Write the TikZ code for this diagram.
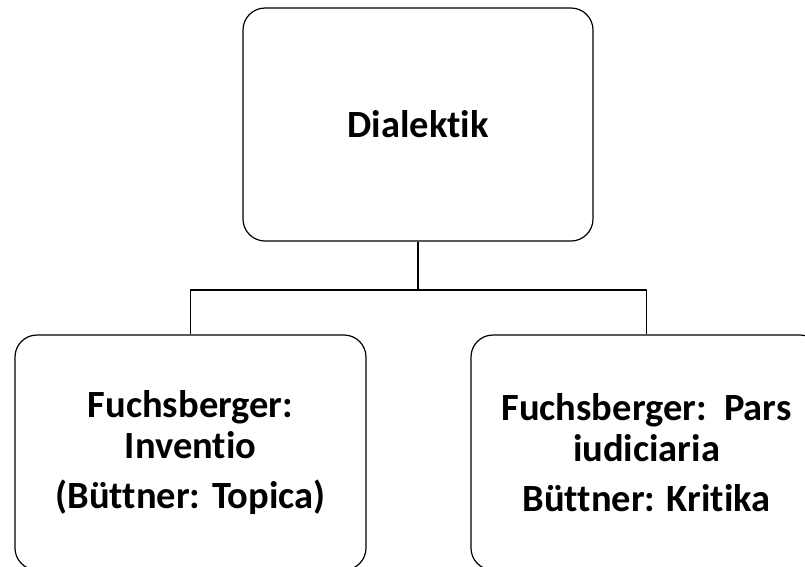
\documentclass[tikz,border=0pt]{standalone}
\usepackage{fontspec}
\setmainfont{Carlito}[Ligatures=NoCommon]

\begin{document}
\begin{tikzpicture}[x=1pt, y=-1pt,
	box/.style={draw, line width=1.2pt, rounded corners=22pt, align=center,
		font=\bfseries\fontsize{38.5}{41}\selectfont, inner sep=0pt},
	topbox/.style={box, minimum width=350pt, minimum height=233pt},
	leafbox/.style={box, minimum width=351pt, minimum height=235pt}]
	\useasboundingbox (0, 0) rectangle (805, 566);
	\node[topbox] (dial) at (418, 124.5) {Dialektik};
	\node[leafbox] (inv) at (190.5, 452.5) {Fuchsberger:\\Inventio\\[9pt](Büttner: Topica)};
	\node[leafbox] (iud) at (646.5, 452.5) {Fuchsberger:\ \ Pars\\iudiciaria\\[9pt]Büttner: Kritika};
	\coordinate (split) at (418, 290);
	\draw[-, line width=1.2pt] (dial.south) -- (split);
	\draw[-, line width=1.2pt] (split) -| (inv.north);
	\draw[-, line width=1.2pt] (split) -| (iud.north);
\end{tikzpicture}
\end{document}
